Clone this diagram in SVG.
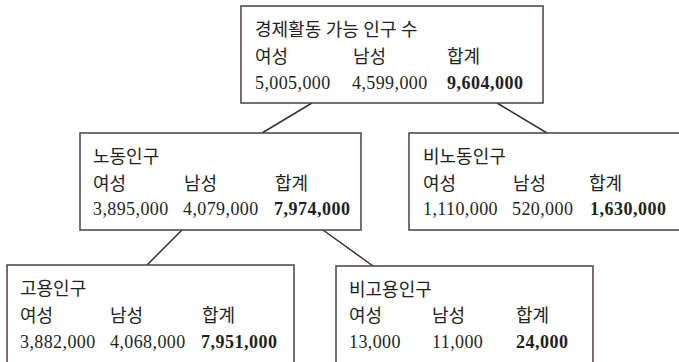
<svg xmlns="http://www.w3.org/2000/svg" width="679" height="362" viewBox="0 0 679 362">
<style>
.box{fill:#ffffff;stroke:#4a403c;stroke-width:1.5}
.ln{stroke:#3a302c;stroke-width:1.5;fill:none}
text{font-family:"Liberation Serif","Noto Sans CJK KR",serif;font-size:18px;fill:#231f20}
.n{letter-spacing:0.4px}
.b{font-weight:bold;letter-spacing:0.5px}
</style>
<rect width="679" height="362" fill="#ffffff"/>
<g id="connectors">
<line class="ln" x1="312" y1="103" x2="262" y2="133"/>
<line class="ln" x1="497" y1="103" x2="547" y2="133"/>
<line class="ln" x1="182" y1="230" x2="147" y2="265"/>
<line class="ln" x1="323" y1="230" x2="373" y2="266"/>
</g>
<g id="node-total">
<rect class="box" x="241" y="6" width="302" height="97"/>
<text x="255" y="36">경제활동 가능 인구 수</text>
<text x="255" y="63">여성</text><text x="353" y="63">남성</text><text x="447" y="63">합계</text>
<text class="n" x="255" y="89">5,005,000</text><text class="n" x="352" y="89">4,599,000</text><text class="b" x="447" y="89">9,604,000</text>
</g>
<g id="node-labor">
<rect class="box" x="80" y="133" width="281" height="97"/>
<text x="93" y="163">노동인구</text>
<text x="93" y="190">여성</text><text x="184" y="190">남성</text><text x="275" y="190">합계</text>
<text class="n" x="93" y="215">3,895,000</text><text class="n" x="183" y="215">4,079,000</text><text class="b" x="274" y="215">7,974,000</text>
</g>
<g id="node-nonlabor">
<rect class="box" x="409" y="133" width="272" height="97"/>
<text x="423" y="163">비노동인구</text>
<text x="423" y="190">여성</text><text x="513" y="190">남성</text><text x="589" y="190">합계</text>
<text class="n" x="423" y="215">1,110,000</text><text class="n" x="512" y="215">520,000</text><text class="b" x="590" y="215">1,630,000</text>
</g>
<g id="node-employed">
<rect class="box" x="7" y="265" width="287" height="105"/>
<text x="20" y="295">고용인구</text>
<text x="20" y="322">여성</text><text x="110" y="322">남성</text><text x="202" y="322">합계</text>
<text class="n" x="20" y="348">3,882,000</text><text class="n" x="110" y="348">4,068,000</text><text class="b" x="201" y="348">7,951,000</text>
</g>
<g id="node-unemployed">
<rect class="box" x="336" y="266" width="257" height="104"/>
<text x="349" y="296">비고용인구</text>
<text x="349" y="322">여성</text><text x="432" y="322">남성</text><text x="516" y="322">합계</text>
<text class="n" x="349" y="348">13,000</text><text class="n" x="432" y="348">11,000</text><text class="b" x="516" y="348">24,000</text>
</g>
</svg>
